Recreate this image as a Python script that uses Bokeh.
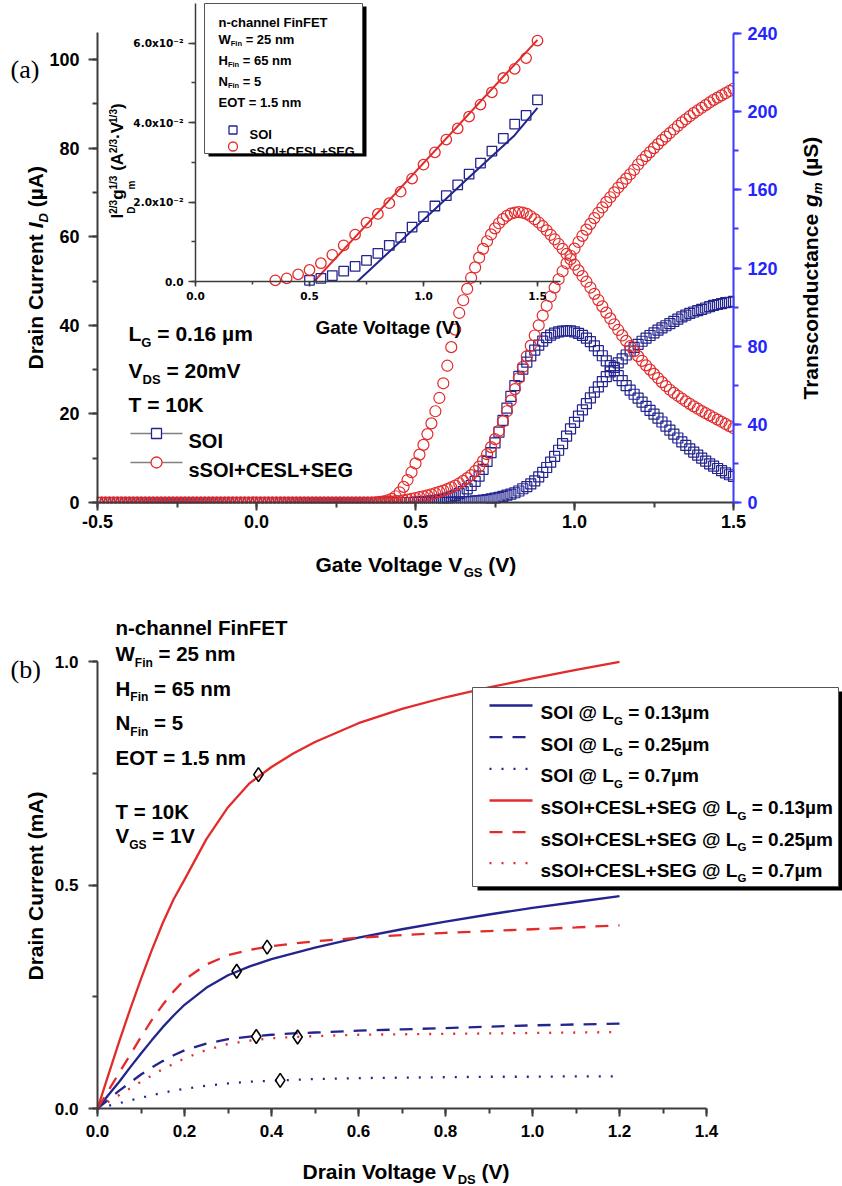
import math
import numpy as np
from bokeh.plotting import figure
from bokeh.models import (Range1d, LinearAxis, SingleIntervalTicker, Label,
                          NumeralTickFormatter, CustomJSTickFormatter)
from bokeh.embed import file_html
from bokeh.resources import INLINE

# ======================= DATA : panel (a) =======================
# gate-voltage sweep (12.5 mV step) from -0.5 V to 1.5 V
vgs = np.linspace(-0.5, 1.5, 161)

# off-state region -0.5 ... 0.3375 V : all curves read as zero
OFF = [0, 0, 0, 0, 0, 0, 0, 0, 0, 0, 0, 0, 0, 0, 0, 0, 0,
       0, 0, 0, 0, 0, 0, 0, 0, 0, 0, 0, 0, 0, 0, 0, 0, 0,
       0, 0, 0, 0, 0, 0, 0, 0, 0, 0, 0, 0, 0, 0, 0, 0, 0,
       0, 0, 0, 0, 0, 0, 0, 0, 0, 0, 0, 0, 0, 0, 0, 0, 0]

# 0.35 ... 1.5 V (93 points each)
id_soi = OFF + [
    0, 0, 0, 0, 0, 0, 0, 0,
    0, 0, 0, 0, 0, 0, 0, 0,
    0, 0, 0, 0, 0.05, 0.07, 0.10, 0.13,
    0.17, 0.22, 0.28, 0.35, 0.43, 0.53, 0.65, 0.80,
    0.97, 1.17, 1.40, 1.65, 1.90, 2.20, 2.60, 3.10,
    3.6, 4.2, 4.9, 5.8, 6.8, 7.9, 9.1, 10.4,
    11.8, 13.3, 15.0, 16.6, 18.1, 19.5, 20.9, 22.3,
    23.6, 24.9, 26.1, 27.3, 28.4, 29.5, 30.5, 31.5,
    32.4, 33.3, 34.2, 35.0, 35.7, 36.4, 37.1, 37.7,
    38.3, 38.9, 39.4, 39.9, 40.4, 40.9, 41.4, 41.9,
    42.3, 42.7, 43.0, 43.3, 43.6, 43.9, 44.2, 44.5,
    44.7, 44.9, 45.1, 45.2, 45.4]

gm_soi = OFF + [
    0, 0, 0, 0, 0, 0, 0, 0,
    0, 0, 0, 0, 0.2, 0.3, 0.4, 0.6,
    0.8, 1.1, 1.4, 1.8, 2.3, 2.9, 3.6, 4.5,
    5.6, 7.0, 8.7, 10.8, 13.5, 17.0, 21.0, 25.5,
    30.5, 36.0, 42.0, 48.3, 54.3, 59.8, 64.5, 68.3,
    71.8, 75.0, 78.0, 80.5, 82.6, 84.4, 85.7, 86.7,
    87.3, 87.7, 87.9, 87.8, 87.3, 86.6, 85.5, 84.1,
    82.3, 80.2, 77.7, 75.1, 72.5, 70.0, 67.5, 64.9,
    62.4, 59.8, 57.5, 55.4, 53.4, 51.4, 49.2, 47.1,
    45.2, 43.2, 41.2, 39.1, 37.0, 35.0, 33.0, 31.0,
    29.2, 27.4, 25.8, 24.2, 22.7, 21.2, 19.8, 18.6,
    17.4, 16.3, 15.2, 14.2, 13.4]

id_ssoi = OFF + [
    0, 0, 0, 0.05, 0.1, 0.15, 0.2, 0.3,
    0.4, 0.5, 0.65, 0.8, 1.0, 1.2, 1.4, 1.6,
    1.85, 2.1, 2.4, 2.7, 3.0, 3.4, 3.8, 4.3,
    4.9, 5.5, 6.2, 7.1, 8.1, 9.4, 10.9, 12.5,
    14.3, 16.2, 18.3, 20.6, 23.0, 25.6, 28.1, 30.6,
    33.0, 35.4, 37.7, 40.0, 42.2, 44.4, 46.5, 48.5,
    50.4, 52.2, 54.0, 55.7, 57.3, 58.8, 60.2, 61.6,
    62.9, 64.2, 65.4, 66.6, 67.8, 68.9, 70.0, 71.1,
    72.1, 73.1, 74.1, 75.1, 76.3, 77.3, 78.2, 79.1,
    80.0, 80.9, 81.8, 82.6, 83.4, 84.2, 85.0, 85.8,
    86.5, 87.2, 87.9, 88.5, 89.1, 89.7, 90.3, 90.9,
    91.4, 91.9, 92.4, 92.9, 93.4]

gm_ssoi = OFF + [
    0, 0, 0.1, 0.3, 0.6, 1.1, 1.9, 3.2,
    5.2, 8.0, 11.5, 15.5, 20.0, 24.5, 29.5, 35.0,
    40.5, 46.7, 53.5, 61.0, 70.0, 79.5, 88.5, 97.0,
    103.5, 109.3, 115.0, 120.3, 125.3, 129.8, 133.7, 137.2,
    140.3, 142.9, 145.0, 146.7, 147.8, 148.4, 148.6, 148.3,
    147.7, 146.5, 145.0, 143.3, 141.4, 139.3, 137.0, 134.7,
    132.3, 129.8, 127.2, 124.5, 121.7, 118.8, 115.9, 113.0,
    110.0, 106.8, 103.6, 100.4, 97.2, 94.2, 91.2, 88.3,
    85.5, 82.7, 80.0, 77.4, 74.9, 72.5, 70.2, 68.0,
    65.8, 63.7, 61.6, 59.6, 57.7, 56.1, 54.6, 53.2,
    51.8, 50.5, 49.2, 48.0, 46.8, 45.7, 44.6, 43.5,
    42.4, 41.3, 40.2, 39.1, 38.0]

for s in (id_soi, gm_soi, id_ssoi, gm_ssoi):
    assert len(s) == 161, len(s)

# inset: I_D^(2/3) g_m^(1/3)
in_v_ssoi = [0.35, 0.40, 0.45, 0.50, 0.55, 0.60, 0.65, 0.70, 0.75, 0.80, 0.85, 0.90,
             0.95, 1.00, 1.05, 1.10, 1.15, 1.20, 1.25, 1.30, 1.35, 1.40, 1.45, 1.50]
in_f_ssoi = [0.0003, 0.0008, 0.0018, 0.0029, 0.0046, 0.0067, 0.0091, 0.0118, 0.0148, 0.0170,
             0.0197, 0.0226, 0.0259, 0.0294, 0.0325, 0.0357, 0.0385, 0.0415, 0.0445, 0.0476,
             0.0512, 0.0535, 0.0562, 0.0606]
in_v_soi = [0.50, 0.55, 0.60, 0.65, 0.70, 0.75, 0.80, 0.85, 0.90, 0.95, 1.00,
            1.05, 1.10, 1.15, 1.20, 1.25, 1.30, 1.35, 1.40, 1.45, 1.50]
in_f_soi = [0.0003, 0.0008, 0.0015, 0.0026, 0.0038, 0.0053, 0.0071, 0.0091, 0.0111, 0.0137,
            0.0163, 0.0190, 0.0216, 0.0243, 0.0270, 0.0298, 0.0328, 0.0360, 0.0396, 0.0418, 0.0457]
fit_ssoi_v = [0.52, 1.50]
fit_ssoi_f = [0.0, 0.0608]
fit_soi_v = [0.71, 1.20, 1.40, 1.50]
fit_soi_f = [0.0, 0.0262, 0.0368, 0.0437]

# ======================= DATA : panel (b) =======================
vds = [0, 0.025, 0.05, 0.075, 0.1, 0.125, 0.15, 0.175, 0.2, 0.25, 0.3, 0.35, 0.4,
       0.45, 0.5, 0.6, 0.7, 0.8, 0.9, 1.0, 1.1, 1.2]
ssoi_013 = [0, 0.075, 0.15, 0.222, 0.29, 0.355, 0.415, 0.468, 0.512, 0.602, 0.674, 0.728,
            0.764, 0.794, 0.82, 0.862, 0.894, 0.92, 0.942, 0.962, 0.981, 0.999]
soi_013 = [0, 0.03, 0.06, 0.092, 0.123, 0.153, 0.182, 0.208, 0.232, 0.27, 0.298, 0.318,
           0.334, 0.347, 0.36, 0.382, 0.401, 0.418, 0.434, 0.449, 0.462, 0.475]
ssoi_025 = [0, 0.04, 0.08, 0.12, 0.16, 0.198, 0.232, 0.262, 0.288, 0.322, 0.343, 0.355,
            0.363, 0.369, 0.374, 0.382, 0.388, 0.393, 0.397, 0.401, 0.405, 0.41]
soi_025 = [0, 0.02, 0.04, 0.058, 0.076, 0.092, 0.106, 0.119, 0.13, 0.145, 0.155, 0.161,
           0.165, 0.168, 0.17, 0.174, 0.177, 0.18, 0.183, 0.186, 0.188, 0.19]
ssoi_07 = [0, 0.015, 0.03, 0.045, 0.06, 0.074, 0.088, 0.1, 0.112, 0.131, 0.144, 0.152,
           0.157, 0.16, 0.162, 0.165, 0.166, 0.167, 0.168, 0.169, 0.17, 0.171]
soi_07 = [0, 0.006, 0.012, 0.018, 0.024, 0.03, 0.035, 0.04, 0.044, 0.051, 0.056, 0.06,
          0.062, 0.064, 0.066, 0.068, 0.069, 0.07, 0.071, 0.071, 0.072, 0.072]
sat_vds = [0.37, 0.32, 0.39, 0.365, 0.46, 0.42]
sat_id = [0.747, 0.307, 0.361, 0.161, 0.160, 0.063]

legend_b = ["SOI @ L", "SOI @ L", "SOI @ L",
            "sSOI+CESL+SEG @ L", "sSOI+CESL+SEG @ L", "sSOI+CESL+SEG @ L"]
legend_b_tail = [" = 0.13µm", " = 0.25µm", " = 0.7µm", " = 0.13µm", " = 0.25µm", " = 0.7µm"]

# ======================= STYLE =======================
FONT = "Liberation Sans"
SERIF = "Liberation Serif"
TICKF = "DejaVu Sans"
NAVY = "#24248e"
RED = "#e22b2b"
AXBLUE = "#3b3bff"
AXGRAY = "#3c3c3c"

AW = {' ': 278, '(': 333, ')': 333, '+': 584, '-': 333, '.': 278, '/': 278, '=': 584,
      '@': 975, 'µ': 611, '·': 278}
for c in "0123456789":
    AW[c] = 556
AW.update(dict(zip("ABCDEFGHIJKLMNOPQRSTUVWXYZ",
                   [722, 722, 722, 722, 667, 611, 778, 722, 278, 556, 722, 611, 833, 722,
                    778, 667, 778, 722, 667, 611, 722, 667, 944, 667, 667, 611])))
AW.update(dict(zip("abcdefghijklmnopqrstuvwxyz",
                   [556, 611, 556, 611, 556, 333, 611, 611, 278, 278, 556, 278, 889, 611,
                    611, 611, 611, 389, 556, 333, 611, 556, 778, 556, 556, 500])))


def tw(s, size):
    return sum(AW.get(ch, 556) for ch in s) * size / 1000.0


W, H = 842, 1186
p = figure(width=W, height=H, output_backend="svg", toolbar_location=None,
           x_range=Range1d(0, W), y_range=Range1d(H, 0),
           x_axis_type=None, y_axis_type=None,
           min_border=0, min_border_left=0, min_border_right=0,
           min_border_top=0, min_border_bottom=0)
p.outline_line_color = None
p.background_fill_color = "white"
p.border_fill_color = "white"

# ---- panel geometry (picture pixels) -> ranges spanning the whole canvas
A_L, A_B, A_V, A_UA, A_US = 97, 502, 318.0, 4.43, 1.954     # (a): x=-0.5 at px 97, y=0 at 502
I_L, I_B, I_V, I_F = 195, 281, 228.0, 3975.0                # inset: 0 at (195, 281)
B_L, B_B, B_V, B_MA = 97, 1108, 435.0, 447.0                # (b): 0 at (97, 1108)
p.extra_x_ranges = {
    "ax": Range1d(-0.5 - A_L / A_V, -0.5 + (W - A_L) / A_V),
    "ix": Range1d(-I_L / I_V, (W - I_L) / I_V),
    "bx": Range1d(-B_L / B_V, (W - B_L) / B_V),
}
p.extra_y_ranges = {
    "ay": Range1d(-(H - A_B) / A_UA, A_B / A_UA),
    "gm": Range1d(-(H - A_B) / A_US, A_B / A_US),
    "iy": Range1d(-(H - I_B) / I_F, I_B / I_F),
    "by": Range1d(-(H - B_B) / B_MA, B_B / B_MA),
}


def add_axis(side, xr, yr, loc, bounds, interval, fmt, color, font, size, tick_out, minor_out,
             standoff, width=2.0, label_color="black"):
    ax = LinearAxis(x_range_name=xr, y_range_name=yr, fixed_location=loc, bounds=bounds,
                    ticker=SingleIntervalTicker(interval=interval, num_minor_ticks=2))
    if fmt is not None:
        ax.formatter = fmt
    ax.axis_line_color = color
    ax.axis_line_width = width
    ax.major_tick_line_color = color
    ax.major_tick_line_width = width
    ax.minor_tick_line_color = color
    ax.minor_tick_line_width = width
    ax.major_tick_in = 0
    ax.major_tick_out = tick_out
    ax.minor_tick_in = 0
    ax.minor_tick_out = minor_out
    ax.major_label_text_font = font
    ax.major_label_text_font_style = "bold"
    ax.major_label_text_font_size = f"{size}px"
    ax.major_label_text_color = label_color
    ax.major_label_standoff = standoff
    p.add_layout(ax, side)
    return ax


# panel (a)
add_axis("below", "ax", "ay", 0, (-0.5, 1.5001), 0.5, NumeralTickFormatter(format="0.0"),
         AXGRAY, FONT, 18, 8, 5, 4)
add_axis("left", "ax", "ay", -0.5, (0, 106), 20, None, AXGRAY, FONT, 18, 9, 5, 9)
add_axis("right", "ax", "gm", 1.5, (0, 240.01), 40, None, AXBLUE, FONT, 18, 8, 5, 6,
         label_color="#2424ff")
# inset
add_axis("left", "ix", "iy", 0, (0, 0.0699), 0.02,
         CustomJSTickFormatter(code="""
            const k = Math.round(tick * 100);
            if (k === 0) { return "0.0"; }
            return k.toFixed(1) + "x10\u207b\u00b2";"""),
         AXGRAY, TICKF, 10.5, 7, 4, 5, width=1.5)
add_axis("below", "ix", "iy", 0, (0, 1.6), 0.5, NumeralTickFormatter(format="0.0"),
         AXGRAY, TICKF, 10.5, 5, 3, 5, width=1.5)
# panel (b)
add_axis("below", "bx", "by", 0, (0, 1.4001), 0.2, NumeralTickFormatter(format="0.0"),
         AXGRAY, FONT, 17, 8, 5, 8)
add_axis("left", "bx", "by", 0, (0, 1.0001), 0.5, NumeralTickFormatter(format="0.0"),
         AXGRAY, FONT, 17, 9, 5, 10)

# ---- panel (a) data
SQ, CI = 10, 11
p.scatter(vgs, id_soi, marker="square", size=SQ, fill_color=None, line_color=NAVY, line_width=1.2,
          x_range_name="ax", y_range_name="ay")
p.scatter(vgs, gm_soi, marker="square", size=SQ, fill_color=None, line_color=NAVY, line_width=1.2,
          x_range_name="ax", y_range_name="gm")
p.scatter(vgs, id_ssoi, marker="circle", size=CI, fill_color=None, line_color=RED, line_width=1.2,
          x_range_name="ax", y_range_name="ay")
p.scatter(vgs, gm_ssoi, marker="circle", size=CI, fill_color=None, line_color=RED, line_width=1.2,
          x_range_name="ax", y_range_name="gm")
# the original plot clips its symbols at the frame edges
p.quad(left=[90, 90, 733.8], right=[739, 96.2, 741], top=[503.2, 470, 60], bottom=[509, 503, 503],
       fill_color="white", line_color=None)

# ---- inset data
p.line(fit_soi_v, fit_soi_f, line_color=NAVY, line_width=2, x_range_name="ix", y_range_name="iy")
p.line(fit_ssoi_v, fit_ssoi_f, line_color=RED, line_width=2, x_range_name="ix", y_range_name="iy")
p.scatter(in_v_soi, in_f_soi, marker="square", size=9.5, fill_color=None, line_color=NAVY,
          line_width=1.3, x_range_name="ix", y_range_name="iy")
p.scatter(in_v_ssoi, in_f_ssoi, marker="circle", size=10.5, fill_color=None, line_color=RED,
          line_width=1.3, x_range_name="ix", y_range_name="iy")

# inset legend box with shadow
p.quad(left=[208], right=[366], top=[6], bottom=[156], fill_color="black", line_color=None)
p.quad(left=[204], right=[362], top=[3], bottom=[153], fill_color="white", line_color="#555555",
       line_width=1)
p.scatter([232.5], [129.5], marker="square", size=8, fill_color=None, line_color=NAVY,
          line_width=1.3)
p.scatter([232.5], [146], marker="circle", size=9, fill_color=None, line_color=RED,
          line_width=1.3)

# main (a) legend (line + symbol)
for (py, mk, col) in ((433, "square", NAVY), (462, "circle", RED)):
    p.line([130, 182], [py, py], line_color="#808080", line_width=1.5)
    p.scatter([156], [py], marker=mk, size=CI if mk == "circle" else SQ, fill_color="white",
              line_color=col, line_width=1.3)

# ---- panel (b) data
DASH = "13 10"
DOT = "2 10"
series_b = [(soi_013, NAVY, "solid"), (soi_025, NAVY, DASH), (soi_07, NAVY, DOT),
            (ssoi_013, RED, "solid"), (ssoi_025, RED, DASH), (ssoi_07, RED, DOT)]
for ys, col, dash in series_b:
    p.line(vds, ys, line_color=col, line_width=2.3, line_dash=dash,
           x_range_name="bx", y_range_name="by")
p.scatter(sat_vds, sat_id, marker="diamond", size=14, fill_color=None, line_color="black",
          line_width=1.6, x_range_name="bx", y_range_name="by")

# (b) legend box
p.quad(left=[477], right=[842], top=[691], bottom=[890], fill_color="black", line_color=None)
p.quad(left=[472], right=[838], top=[687], bottom=[886], fill_color="white", line_color="#555555",
       line_width=1)
row_y = [705, 736.7, 768.3, 800, 831.7, 862.7]
for (ys, col, dash), yy in zip(series_b, row_y):
    p.line([489, 532], [yy, yy], line_color=col, line_width=2.3, line_dash=dash)


# ---- texts (placed in picture pixels)
def rich(x0, y0, parts, angle=0.0, color="black", font=FONT):
    cur = 0.0
    for item in parts:
        group = item if isinstance(item, list) else [item]
        adv = 0.0
        for (txt, size, dy, style) in group:
            lead = len(txt) - len(txt.lstrip(" "))
            body = txt.strip(" ")
            off = cur + tw(" " * lead, size)
            if angle == 0:
                px, py = x0 + off, y0 + dy
            else:
                px, py = x0 + dy, y0 - off
            if body:
                p.add_layout(Label(x=px, y=py, text=body, text_font=font,
                                   text_font_size=f"{size}px", text_font_style=style,
                                   text_color=color, angle=angle, text_align="left",
                                   text_baseline="alphabetic"))
            adv = max(adv, tw(txt, size))
        cur += adv


B = "bold"
BI = "bold italic"
ROT = math.pi / 2
rich(10, 69, [("(a)", 26, 0, "normal")], font=SERIF)
rich(35, 369, [("Drain Current ", 21, 0, B), ("I", 21, 0, BI), ("D", 13, 8, BI),
               (" (µA)", 21, 0, B)], angle=ROT)
rich(810, 399, [("Transconductance ", 21, 0, B), ("g", 21, 0, BI), ("m", 13, 7, BI),
                (" (µS)", 21, 0, B)], angle=ROT)
rich(315, 564, [("Gate Voltage V", 21, 0, B), ("GS", 13, 8, B), (" (V)", 21, 0, B)])
rich(128, 333, [("L", 21, 0, B), ("G", 13, 9, B), (" = 0.16 µm", 21, 0, B)])
rich(128, 370, [("V", 21, 0, B), ("DS", 13, 9, B), (" = 20mV", 21, 0, B)])
rich(128, 404, [("T = 10K", 21, 0, B)])
rich(188, 440, [("SOI", 20, 0, B)])
rich(188, 469, [("sSOI+CESL+SEG", 20, 0, B)])
# inset texts
rich(117, 218, [("I", 17, 0, B), [("D", 10, 14, B), ("2/3", 10, -4, B)],
                ("g", 17, 0, B), [("m", 10, 14, B), ("1/3", 10, -4, B)],
                (" (A", 17, 0, B), ("2/3", 10, -4, B), ("·V", 17, 0, B),
                ("1/3", 10, -4, B), (")", 17, 0, B)], angle=ROT)
rich(315, 327, [("Gate Voltage (V)", 19, 0, B)])
rich(218, 22, [("n-channel FinFET", 13, 0, B)])
rich(218, 38.5, [("W", 13, 0, B), ("Fin", 7.5, 4, B), (" = 25 nm", 13, 0, B)])
rich(218, 59.5, [("H", 13, 0, B), ("Fin", 7.5, 4, B), (" = 65 nm", 13, 0, B)])
rich(218, 80.5, [("N", 13, 0, B), ("Fin", 7.5, 4, B), (" = 5", 13, 0, B)])
rich(218, 101.5, [("EOT = 1.5 nm", 13, 0, B)])
rich(249, 134, [("SOI", 13, 0, B)])
rich(249, 150.5, [("sSOI+CESL+SEG", 12.8, 0, B)])
# panel (b) texts
for yy, txt, tail in zip(row_y, legend_b, legend_b_tail):
    rich(540, yy + 7, [(txt, 19, 0, B), ("G", 11.5, 8, B), (tail, 19, 0, B)])
rich(10, 669, [("(b)", 26, 0, "normal")], font=SERIF)
rich(35, 980, [("Drain Current (mA)", 21, 0, B)], angle=ROT)
rich(302, 1171, [("Drain Voltage V", 21, 0, B), ("DS", 13, 8, B), (" (V)", 21, 0, B)])
TB = 20.5
rich(115, 627, [("n-channel FinFET", TB, 0, B)])
rich(115, 653, [("W", TB, 0, B), ("Fin", 12, 9, B), (" = 25 nm", TB, 0, B)])
rich(115, 687.5, [("H", TB, 0, B), ("Fin", 12, 9, B), (" = 65 nm", TB, 0, B)])
rich(115, 722, [("N", TB, 0, B), ("Fin", 12, 9, B), (" = 5", TB, 0, B)])
rich(115, 757, [("EOT = 1.5 nm", TB, 0, B)])
rich(115, 811, [("T = 10K", TB, 0, B)])
rich(115, 835, [("V", TB, 0, B), ("GS", 12, 9, B), (" = 1V", TB, 0, B)])

open("out.html", "w", encoding="utf-8").write(file_html(p, INLINE))
